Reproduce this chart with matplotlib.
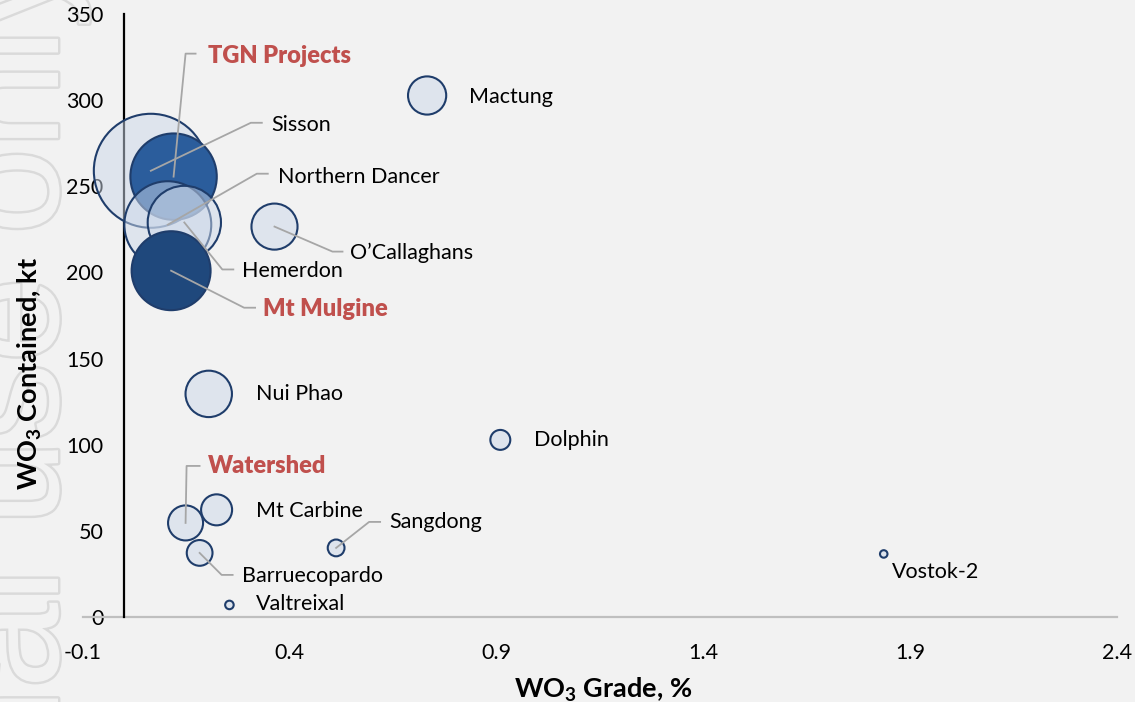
import matplotlib
matplotlib.use('Agg')
import matplotlib.pyplot as plt
from matplotlib.lines import Line2D
from matplotlib.transforms import IdentityTransform
import matplotlib.patheffects as pe

# ---------------- data ----------------
projects = ['Sisson', 'TGN Projects', 'Northern Dancer', 'Hemerdon', 'Mt Mulgine',
            'O\u2019Callaghans', 'Mactung', 'Nui Phao', 'Dolphin', 'Watershed',
            'Mt Carbine', 'Barruecopardo', 'Sangdong', 'Valtreixal', 'Vostok-2']
grade = [0.064, 0.119, 0.105, 0.145, 0.113, 0.363, 0.732, 0.204, 0.909, 0.148,
         0.223, 0.182, 0.512, 0.254, 1.836]
contained = [259.0, 255.6, 227.7, 229.0, 201.0, 226.6, 302.7, 129.5, 102.8, 54.6,
             62.2, 37.2, 40.1, 7.0, 36.6]
tonnage = [392, 225, 228, 162, 188, 64, 44, 65, 12, 37, 29, 20, 8.5, 2.2, 1.7]
highlight = ['TGN Projects', 'Mt Mulgine', 'Watershed']
x_ticks = [-0.1, 0.4, 0.9, 1.4, 1.9, 2.4]
x_tick_labels = ['-0.1', '0.4', '0.9', '1.4', '1.9', '2.4']
y_ticks = [0, 50, 100, 150, 200, 250, 300, 350]
y_tick_labels = ['0', '50', '100', '150', '200', '250', '300', '350']

# ---------------- style ----------------
BG = '#f2f2f2'
LIGHT = (0.80, 0.847, 0.918, 0.5)
FILLS = {'TGN Projects': '#2b5d9c', 'Mt Mulgine': '#1f487c'}
EDGE = '#1f3d6b'
RED = '#c0504d'
LEADER = '#a6a6a6'
FONT = 'Lato'
FS = 15.5
FS_TITLE = 19.5

# label offsets in pixels relative to bubble centre (x right, y up):
# (text_dx, text_dy, [leader vertices] or None)
label_pos = {
    'Sisson': (120, 46, [(100, 48), (111, 48)]),
    'TGN Projects': (34, 121, [(12, 123), (22, 123)]),
    'Northern Dancer': (110, 48, [(89, 51), (100, 51)]),
    'Hemerdon': (58, -49, [(38, -47), (49, -47)]),
    'Mt Mulgine': (92, -38, [(73, -37), (84, -37)]),
    'O\u2019Callaghans': (76, -26, [(58, -25), (68, -25)]),
    'Mactung': (42, -2, None),
    'Nui Phao': (47, 0, None),
    'Dolphin': (34, 0, None),
    'Watershed': (22, 57, [(1, 57), (14, 57)]),
    'Mt Carbine': (39, -1, None),
    'Barruecopardo': (42, -23, [(22, -22), (33, -22)]),
    'Sangdong': (53, 26, [(33, 26), (44, 26)]),
    'Valtreixal': (27, 1, None),
    'Vostok-2': (8, -18, None),
}

plt.rcParams['axes.unicode_minus'] = False
plt.rcParams['mathtext.fontset'] = 'custom'
plt.rcParams['mathtext.rm'] = FONT
plt.rcParams['mathtext.bf'] = FONT + ':bold'
plt.rcParams['font.family'] = [FONT, 'DejaVu Sans']

W, H = 1135, 702
fig = plt.figure(figsize=(W / 100, H / 100), dpi=100, facecolor=BG)
ax = fig.add_axes([83 / W, 85 / H, (1117 - 83) / W, (688 - 85) / H])
ax.set_facecolor('none')
ax.set_zorder(1)
ax.set_xlim(-0.1, 2.4)
ax.set_ylim(0, 350)

# watermark (behind everything)
fig.text(58 / W, 1 + 48 / H, 'For personal use only', rotation=90, rotation_mode='anchor',
         ha='right', va='baseline', fontsize=111, family='Liberation Sans', color=BG,
         path_effects=[pe.withStroke(linewidth=3.5, foreground='#dadada')], zorder=-5)

# bubbles
smax = (2 * 57 * 0.72) ** 2
sizes = [smax * t / max(tonnage) for t in tonnage]
faces = [FILLS.get(p, LIGHT) for p in projects]
ax.scatter(grade, contained, s=sizes, c=faces, edgecolors=EDGE, linewidths=1.5, zorder=3)

# spines / ticks
for s in ['top', 'right']:
    ax.spines[s].set_visible(False)
ax.spines['left'].set_position(('data', 0))
ax.spines['left'].set_color('black')
ax.spines['left'].set_linewidth(1.6)
ax.spines['bottom'].set_color('#bfbfbf')
ax.spines['bottom'].set_linewidth(1.6)
ax.spines['bottom'].set_zorder(2)
ax.set_xticks(x_ticks)
ax.set_xticklabels(x_tick_labels)
ax.set_yticks(y_ticks)
ax.set_yticklabels(y_tick_labels)
ax.tick_params(axis='both', length=0, labelsize=FS, colors='black')
ax.tick_params(axis='y', pad=15)
ax.tick_params(axis='x', pad=19)

# labels and leaders
for p, gx, cy in zip(projects, grade, contained):
    px, py = ax.transData.transform((gx, cy))
    tdx, tdy, leader = label_pos[p]
    if leader is not None:
        xs = [px] + [px + d[0] for d in leader]
        ys = [py] + [py + d[1] for d in leader]
        fig.add_artist(Line2D(xs, ys, transform=IdentityTransform(), color=LEADER,
                              lw=1.3, zorder=4))
    hl = p in highlight
    fig.text(px + tdx, py + tdy, p, transform=IdentityTransform(), ha='left', va='center',
             fontsize=FS + (1.5 if hl else 0), fontweight='heavy' if hl else 'normal',
             color=RED if hl else 'black', zorder=5)

fig.text(603 / W, 1 - 690 / H, r'$\mathbf{WO_3}$ Grade, %', ha='center', va='center',
         fontsize=FS_TITLE, fontweight='bold')
fig.text(30 / W, 1 - 373 / H, r'$\mathbf{WO_3}$ Contained, kt', ha='center', va='center',
         rotation=90, fontsize=FS_TITLE, fontweight='bold')

fig.savefig('out.png', dpi=100, facecolor=BG)
